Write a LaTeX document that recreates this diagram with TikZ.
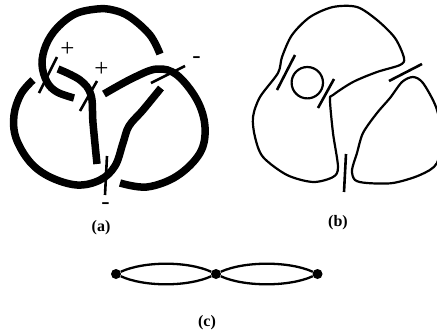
\documentclass[tikz,border=0pt]{standalone}
\usepackage{fontspec}
\setmainfont{Liberation Serif}
\tikzset{
    strang/.style={line width=7.5pt},
    kontur/.style={line width=2.2pt, line join=round},
    strich/.style={line width=2.6pt},
    vorz/.style={font=\fontsize{25}{25}\selectfont, inner sep=0pt},
    titel/.style={font=\bfseries\fontsize{16}{16}\selectfont, inner sep=0pt},
    punkt/.style={circle, fill=black, inner sep=0pt, minimum size=10pt},
    bogen/.style={line width=2.3pt}
}
\begin{document}
\begin{tikzpicture}[x=1pt, y=-1pt]
    \useasboundingbox (0,0) rectangle (437,335);
    % Knoten (a):
    \draw[strang] plot[smooth, tension=0.6] coordinates {(160,54) (150,35) (130,17) (113,10) (97,9) (75,14) (57,28) (46,45) (42,64) (47,82) (57,92) (74,98)}; % oben
    \draw[strang] plot[smooth, tension=0.6] coordinates {(33,80) (21,94) (14,115) (16,138) (30,162) (50,177) (77,185) (100,180) (115,166) (123,143) (129,126) (143,110) (161,88)}; % links
    \draw[strang] plot[smooth, tension=0.6] coordinates {(58,69) (80,80) (91,95) (93,123) (97,164)}; % Mitte
    \draw[strang] plot[smooth, tension=0.6] coordinates {(104,94) (133,78) (157,69) (177,75) (197,100) (205,127) (200,153) (177,176) (147,187) (120,183)}; % rechts
    \draw[strich] (57,57) -- (39,93);
    \draw[strich] (97,81) -- (80,111);
    \draw[strich] (185,66) -- (151,83);
    \draw[strich] (107,156) -- (105,195);
    \node[vorz] (plusa) at (67.5,49.5) {+};
    \node[vorz] (plusb) at (101.5,69.5) {+};
    \node[vorz] (minusa) at (196.5,60) {-};
    \node[vorz] (minusb) at (105.5,206) {-};
    \node[titel] (labela) at (101,228) {(a)};
    % Kontur (b):
    \draw[kontur] plot[smooth cycle, tension=0.5] coordinates {(278,73) (282,57) (292,35) (310,17) (333,7) (357,7) (377,20) (395,38) (404,58) (400,65) (377,72) (353,82) (333,95) (330,100) (333,133) (338,167) (333,177) (313,182) (287,175) (263,157) (255,137) (253,117) (260,97)};
    \draw[kontur] (307.3,82.7) circle (15.7pt); % Kreis
    \draw[kontur] plot[smooth cycle, tension=0.5] coordinates {(402,82) (413,77) (423,83) (436,107) (441,133) (437,163) (420,175) (393,183) (367,183) (355,180) (352,170) (357,153) (363,133) (377,113) (390,98)};
    \draw[strich] (295,55) -- (277,90);
    \draw[strich] (334,79) -- (318,108);
    \draw[strich] (422,64) -- (389,81);
    \draw[strich] (346,154) -- (344,192);
    \node[titel] (labelb) at (338,223) {(b)};
    % Graph (c):
    \node[punkt] (linksc) at (116,274) {};
    \node[punkt] (mittec) at (216,274) {};
    \node[punkt] (rechtsc) at (317.5,274) {};
    \draw[bogen] (linksc) .. controls +(28,-13) and +(-28,-13) .. (mittec);
    \draw[bogen] (linksc) .. controls +(28,13) and +(-28,13) .. (mittec);
    \draw[bogen] (mittec) .. controls +(28,-13) and +(-28,-13) .. (rechtsc);
    \draw[bogen] (mittec) .. controls +(28,13) and +(-28,13) .. (rechtsc);
    \node[titel] (labelc) at (207,323) {(c)};
\end{tikzpicture}
\end{document}
